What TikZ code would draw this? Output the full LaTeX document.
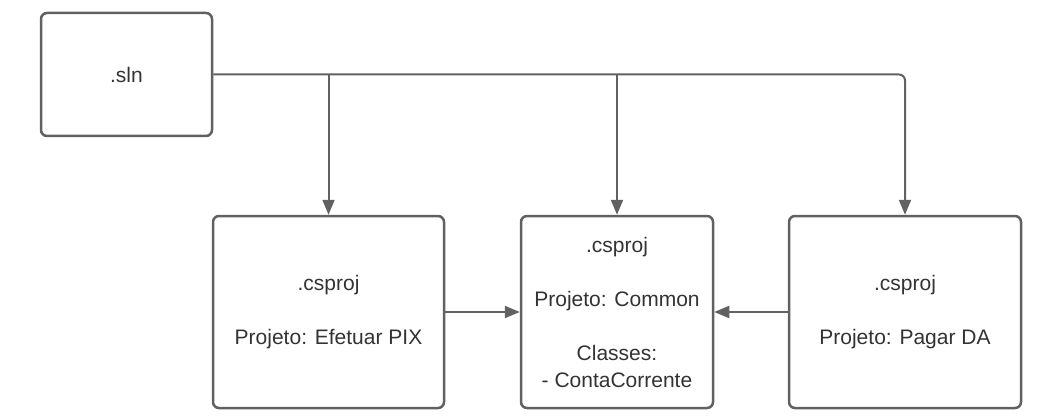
\documentclass[tikz,border=0pt]{standalone}
\usepackage{fontspec}
\setmainfont{Liberation Sans}
\usetikzlibrary{arrows.meta}
\definecolor{linegray}{HTML}{616161}
\definecolor{textgray}{HTML}{333333}
\tikzset{
  box/.style={draw=linegray, line width=2.5pt, rounded corners=6pt, fill=white,
    align=center, text=textgray, font=\fontsize{21}{27}\selectfont, inner sep=0pt},
  conn/.style={draw=linegray, line width=2pt, -{Triangle[width=12pt,length=15pt]}},
}
\begin{document}
\begin{tikzpicture}[x=1pt,y=-1pt]
\useasboundingbox (0,0) rectangle (1050,417);
\node[box, minimum width=171pt, minimum height=123pt] (sln) at (126.5,74.5) {.sln};
\node[box, minimum width=231pt, minimum height=192pt] (pix) at (328.5,312) {.csproj\\[27pt]Projeto: Efetuar PIX};
\node[box, minimum width=192pt, minimum height=192pt] (common) at (617,312) {.csproj\\[27pt]Projeto: Common\\[27pt]Classes:\\- ContaCorrente};
\node[box, minimum width=232pt, minimum height=192pt] (da) at (905,312) {.csproj\\[27pt]Projeto: Pagar DA};
\draw[conn, rounded corners=6pt] (sln.east) -| (da.north);
\draw[conn] (sln.east -| pix.north) -- (pix.north);
\draw[conn] (sln.east -| common.north) -- (common.north);
\draw[conn] (pix.east) -- (common.west);
\draw[conn] (da.west) -- (common.east);
\end{tikzpicture}
\end{document}
